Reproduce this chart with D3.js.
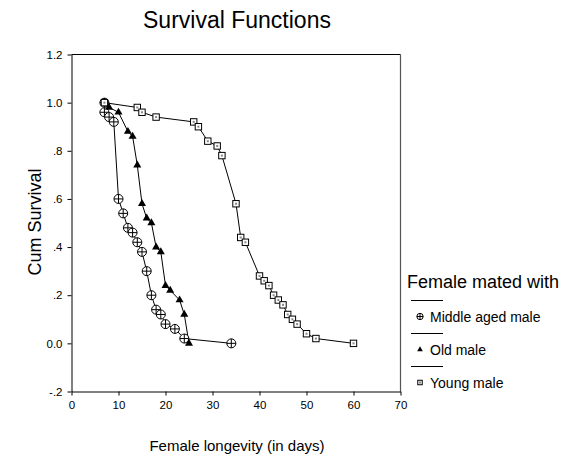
<!DOCTYPE html>
<html><head><meta charset="utf-8">
<script src="https://cdn.jsdelivr.net/npm/d3@7"></script>
<style>body{margin:0;background:#fff}svg{display:block;font-family:"Liberation Sans",Arial,sans-serif}</style>
</head><body><div id="chart"></div>
<script>
const xTicks = [0,10,20,30,40,50,60,70];
const yTicks = [-0.2,0,0.2,0.4,0.6,0.8,1.0,1.2];
const yTickLabels = ["-.2","0.0",".2",".4",".6",".8","1.0","1.2"];
const seriesNames = ["Middle aged male","Old male","Young male"];
const middleDays = [7,7,8,9,10,11,12,13,14,15,16,17,18,19,20,22,24,34];
const middleSurv = [1.0,0.96,0.94,0.92,0.60,0.54,0.48,0.46,0.42,0.38,0.30,0.20,0.14,0.12,0.08,0.06,0.02,0.0];
const oldDays = [7,8,10,12,13,14,15,16,17,18,19,20,21,23,24,25];
const oldSurv = [1.0,0.98,0.96,0.88,0.86,0.74,0.58,0.52,0.50,0.40,0.38,0.24,0.22,0.18,0.12,0.0];
const youngDays = [7,14,15,18,26,27,29,31,32,35,36,37,40,41,42,43,44,45,46,47,48,50,52,60];
const youngSurv = [1.0,0.98,0.96,0.94,0.92,0.90,0.84,0.82,0.78,0.58,0.44,0.42,0.28,0.26,0.24,0.20,0.18,0.16,0.12,0.10,0.08,0.04,0.02,0.0];

const W=569,H=458;
const svg=d3.select("#chart").append("svg").attr("width",W).attr("height",H);
const x=d3.scaleLinear().domain([0,70]).range([71.5,400.5]);
const y=d3.scaleLinear().domain([-0.2,1.2]).range([391.5,54.5]);

// frame
svg.append("line").attr("x1",x(0)).attr("x2",x(70)).attr("y1",y(1.2)).attr("y2",y(1.2)).attr("stroke","#000");
svg.append("line").attr("x1",x(70)).attr("x2",x(70)).attr("y1",y(1.2)).attr("y2",y(-0.2)).attr("stroke","#555").attr("stroke-width",1.2);

const xAxis=svg.append("g").attr("transform",`translate(0,${y(-0.2)})`)
  .call(d3.axisBottom(x).tickValues(xTicks).tickSize(4).tickSizeOuter(0).tickFormat(d3.format("d")));
const yAxis=svg.append("g").attr("transform",`translate(${x(0)},0)`)
  .call(d3.axisLeft(y).tickValues(yTicks).tickSize(4).tickSizeOuter(0).tickFormat((d,i)=>yTickLabels[i]));
[xAxis,yAxis].forEach(g=>{g.selectAll("path").attr("stroke","#000");g.selectAll("line").attr("stroke","#000");
  g.selectAll("text").attr("font-family","Liberation Sans, Arial, sans-serif").attr("font-size","11.5px").attr("fill","#000");});
xAxis.selectAll("text").attr("dy","0.95em");
yAxis.selectAll("text").attr("x",-9);

// title & labels
svg.append("text").attr("x",237).attr("y",28).attr("text-anchor","middle").attr("font-size","23px").text("Survival Functions");
svg.append("text").attr("transform","translate(41,222) rotate(-90)").attr("text-anchor","middle").attr("font-size","18px").text("Cum Survival");
svg.append("text").attr("x",237).attr("y",451).attr("text-anchor","middle").attr("font-size","15px").text("Female longevity (in days)");

const line=d3.line().x(d=>x(d[0])).y(d=>y(d[1]));
const series=[
 {name:seriesNames[0],pts:d3.zip(middleDays,middleSurv),type:"circle"},
 {name:seriesNames[1],pts:d3.zip(oldDays,oldSurv),type:"tri"},
 {name:seriesNames[2],pts:d3.zip(youngDays,youngSurv),type:"square"}];

function marker(g,type,s){
  if(type==="circle"){
    const r=4.5*s;
    g.append("circle").attr("r",r).attr("fill","#fff").attr("stroke","#000").attr("stroke-width",1);
    g.append("line").attr("x1",-r).attr("x2",r).attr("stroke","#000");
    g.append("line").attr("y1",-r).attr("y2",r).attr("stroke","#000");
  } else if(type==="tri"){
    g.append("path").attr("d",d3.symbol(d3.symbolTriangle,28*s*s)()).attr("fill","#000");
  } else {
    const a=3.2*s;
    g.append("rect").attr("x",-a).attr("y",-a).attr("width",2*a).attr("height",2*a).attr("fill","#fff").attr("stroke","#000").attr("stroke-width",1);
    g.append("rect").attr("x",-1).attr("y",-1).attr("width",2).attr("height",2).attr("fill","#888");
  }
}
series.forEach(s=>{
  svg.append("path").attr("d",line(s.pts)).attr("fill","none").attr("stroke","#000").attr("stroke-width",1);
});
series.forEach(s=>{
  s.pts.forEach(p=>{const g=svg.append("g").attr("transform",`translate(${x(p[0])},${y(p[1])})`);marker(g,s.type,1);});
});

// legend
svg.append("text").attr("x",407).attr("y",288).attr("font-size","18px").text("Female mated with");
series.forEach((s,i)=>{
  const y0=300.5+i*33;
  svg.append("line").attr("x1",411).attr("x2",443).attr("y1",y0).attr("y2",y0).attr("stroke","#000");
  const g=svg.append("g").attr("transform",`translate(420,${y0+16})`);marker(g,s.type,0.7);
  svg.append("text").attr("x",430).attr("y",y0+21.5).attr("font-size","14px").text(s.name);
});
</script></body></html>
